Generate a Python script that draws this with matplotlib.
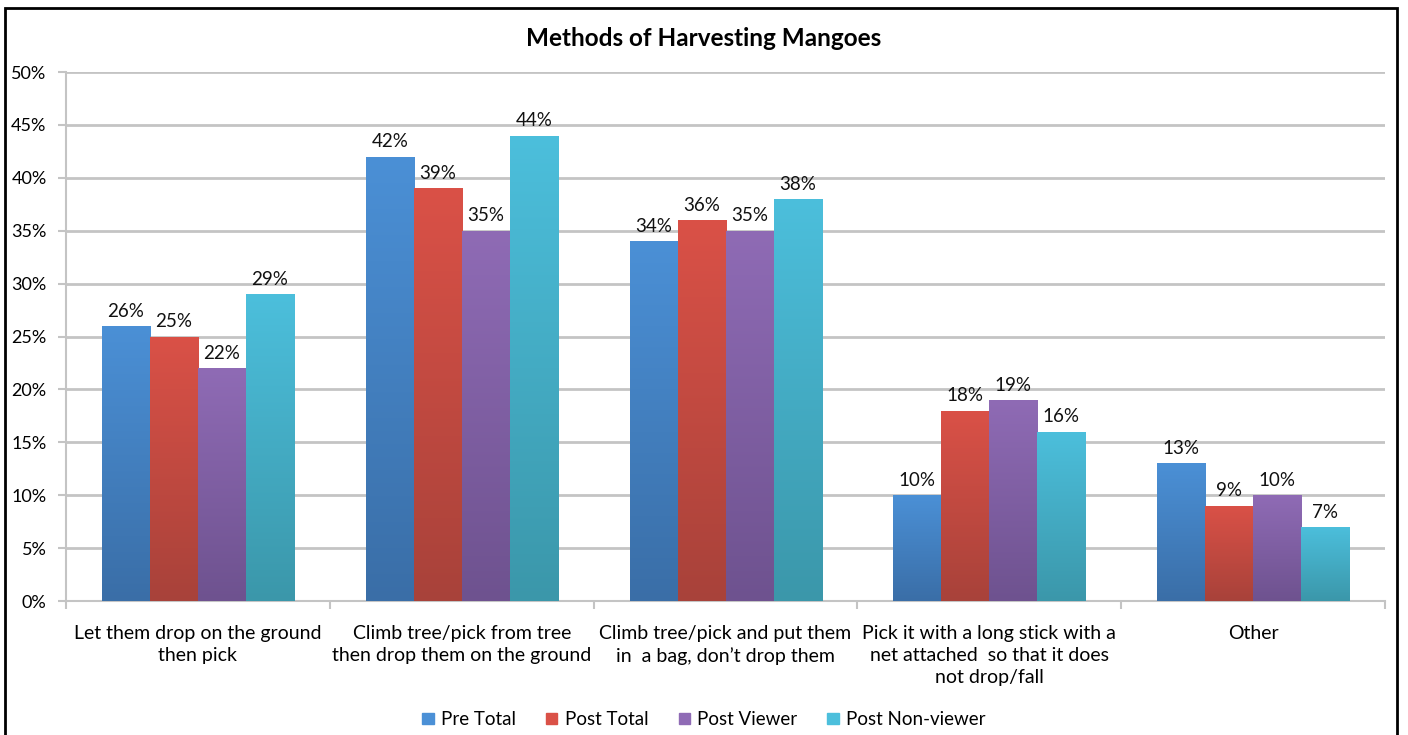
import numpy as np
import matplotlib
matplotlib.use("Agg")
import matplotlib.pyplot as plt
from matplotlib.colors import LinearSegmentedColormap
from matplotlib.patches import Rectangle

# -----------------------------
# Data
# -----------------------------
categories = [
    "Let them drop on the ground\nthen pick",
    "Climb tree/pick from tree\nthen drop them on the ground",
    "Climb tree/pick and put them\nin  a bag, don\u2019t drop them",
    "Pick it with a long stick with a\nnet attached  so that it does\nnot drop/fall",
    "Other",
]
series_names = ["Pre Total", "Post Total", "Post Viewer", "Post Non-viewer"]
pre_total = [26, 42, 34, 10, 13]
post_total = [25, 39, 36, 18, 9]
post_viewer = [22, 35, 35, 19, 10]
post_nonviewer = [29, 44, 38, 16, 7]
series_values = [pre_total, post_total, post_viewer, post_nonviewer]

# top / bottom colours for the gradient fill
top_colors = ["#4b90d6", "#da5147", "#8f6bb5", "#4cbfdc"]
bottom_colors = ["#3a6ea7", "#a8423a", "#6e528f", "#3b97aa"]

plt.rcParams["font.family"] = ["Lato", "DejaVu Sans"]

fig = plt.figure(figsize=(14.08, 7.35), dpi=100)
ax = fig.add_axes([0.0469, 0.1823, 0.9368, 0.7197])

n_cat = len(categories)
x = np.arange(n_cat)
bar_w = 0.182

for i, (name, vals) in enumerate(zip(series_names, series_values)):
    offs = (i - 1.5) * bar_w
    bars = ax.bar(x + offs, vals, width=bar_w, color=top_colors[i],
                  label=name, zorder=3)
    cmap = LinearSegmentedColormap.from_list("g%d" % i, [bottom_colors[i], top_colors[i]])
    grad = np.linspace(0, 1, 256).reshape(-1, 1)
    for b, v in zip(bars, vals):
        bx, bw = b.get_x(), b.get_width()
        im = ax.imshow(grad, cmap=cmap, aspect="auto", origin="lower",
                       extent=[bx, bx + bw, 0, v], zorder=3.5)
        im.set_clip_path(b)
        ax.text(b.get_x() + bw / 2, v + 0.6, "%d%%" % v, ha="center", va="bottom",
                fontsize=13.5, color="#111111", zorder=5)

ax.set_xlim(-0.5, n_cat - 0.5)
ax.set_ylim(0, 50)
ax.set_yticks(np.arange(0, 51, 5))
ax.set_yticklabels(["%d%%" % t for t in range(0, 51, 5)], fontsize=13)
ax.yaxis.grid(True, color="#c4c4c4", linewidth=2, zorder=0)
ax.set_axisbelow(True)

ax.set_xticks(x)
ax.set_xticklabels(categories, fontsize=14, linespacing=1.38)
ax.tick_params(axis="x", length=0, pad=17)
ax.set_xticks(np.arange(-0.5, n_cat, 1), minor=True)
ax.tick_params(axis="x", which="minor", length=6, width=1.5, color="#c4c4c4")
ax.tick_params(axis="y", length=6, width=1.5, color="#c4c4c4", pad=8)

for s in ["top", "right"]:
    ax.spines[s].set_visible(False)
ax.spines["left"].set_color("#c4c4c4")
ax.spines["left"].set_linewidth(1.5)
ax.spines["bottom"].set_color("#c4c4c4")
ax.spines["bottom"].set_linewidth(1.5)

fig.text(0.5, 0.948, "Methods of Harvesting Mangoes", ha="center", va="center",
         fontsize=17.5, fontweight="bold")

handles = [Rectangle((0, 0), 1, 1, color=c) for c in top_colors]
fig.legend(handles, series_names, loc="center", bbox_to_anchor=(0.5, 0.021),
           ncol=4, frameon=False, fontsize=13.5, handlelength=0.6, handleheight=0.6,
           columnspacing=1.6, handletextpad=0.4)

# outer frame
fig.add_artist(Rectangle((0.0036, -0.02), 0.9886, 1.009, transform=fig.transFigure,
                         fill=False, edgecolor="black", linewidth=2))

fig.savefig("out.png", dpi=100)
